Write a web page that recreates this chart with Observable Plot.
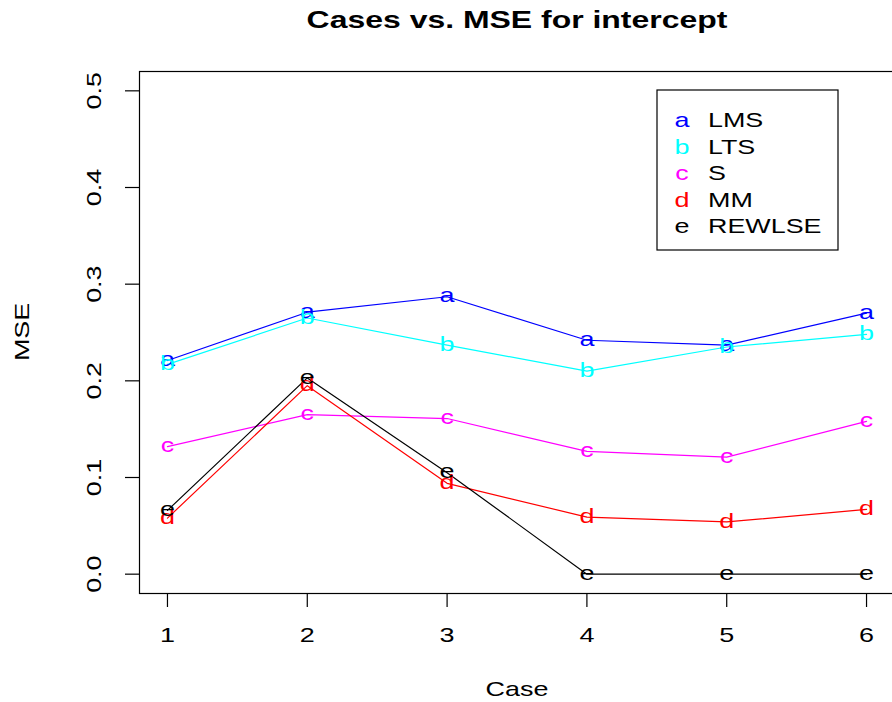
<!DOCTYPE html>
<html><head><meta charset="utf-8">
<script src="https://cdn.jsdelivr.net/npm/d3@7"></script>
<script src="https://cdn.jsdelivr.net/npm/@observablehq/plot@0.6"></script>
<style>
body{margin:0;background:#fff;}
svg{font-family:"Liberation Sans",Arial,Helvetica,sans-serif;}
</style>
</head><body><div id="chart"></div>
<script>
const cases = [1, 2, 3, 4, 5, 6];
const methods = ["LMS", "LTS", "S", "MM", "REWLSE"];
const symbols = ["a", "b", "c", "d", "e"];
const colors = ["#0000ff", "#00ffff", "#ff00ff", "#ff0000", "#000000"];
const mseLMS = [0.221, 0.271, 0.287, 0.242, 0.237, 0.270];
const mseLTS = [0.217, 0.265, 0.237, 0.210, 0.235, 0.248];
const mseS = [0.132, 0.165, 0.161, 0.127, 0.121, 0.158];
const mseMM = [0.058, 0.195, 0.094, 0.059, 0.054, 0.067];
const mseREWLSE = [0.066, 0.203, 0.105, 0.0, 0.0, 0.0];
const yTicks = [0, 0.1, 0.2, 0.3, 0.4, 0.5];
const titleText = "Cases vs. MSE for intercept";
const xLabel = "Case";
const yLabel = "MSE";

const series = [mseLMS, mseLTS, mseS, mseMM, mseREWLSE];
const rows = [];
methods.forEach((m, i) => series[i].forEach((v, j) =>
  rows.push({method: m, sym: symbols[i], case: cases[j], mse: v})));

const stretch = 1.28;

const plot = Plot.plot({
  width: 892, height: 702,
  marginTop: 71, marginBottom: 109, marginLeft: 139, marginRight: -2,
  style: {fontFamily: '"Liberation Sans", Arial, sans-serif', fontSize: "21px", background: "white", color: "black", overflow: "visible"},
  x: {domain: [0.8, 6.2]},
  y: {domain: [-0.02, 0.52]},
  color: {domain: methods, range: colors},
  marks: [
    Plot.frame({stroke: "black", strokeWidth: 1.2}),
    Plot.axisX({ticks: cases, tickFormat: d3.format("d"), tickSize: 14, tickPadding: 20, label: null, fontSize: 21, strokeWidth: 1.2}),
    Plot.axisY({ticks: yTicks, tickSize: 14, tickFormat: () => "", label: null, strokeWidth: 1.2}),
    Plot.text(yTicks, {y: d => d, text: d => d.toFixed(1), frameAnchor: "left", textAnchor: "middle", dx: -45, rotate: -90, fontSize: 21}),
    Plot.line(rows, {x: "case", y: "mse", z: "method", stroke: "method", strokeWidth: 1.2}),
    Plot.text(rows, {x: "case", y: "mse", text: "sym", fill: "method", fontSize: 21, dy: -1}),
    Plot.text([titleText], {text: d => d, frameAnchor: "top", lineAnchor: "bottom", dy: -44, fontSize: 24, fontWeight: "bold"}),
    Plot.text([xLabel], {text: d => d, frameAnchor: "bottom", lineAnchor: "bottom", dy: 102, fontSize: 21})
  ]
});
document.getElementById("chart").appendChild(plot);

const svg = d3.select(plot);

// legend (R-style box, top right)
const lg = svg.append("g").attr("text-anchor", "start");
lg.append("rect").attr("x", 657).attr("y", 90).attr("width", 181).attr("height", 160)
  .attr("fill", "white").attr("stroke", "black").attr("stroke-width", 1.2);
methods.forEach((m, i) => {
  const yb = 127 + i * 26.5;
  lg.append("text").attr("x", 682).attr("y", yb).attr("text-anchor", "middle")
    .attr("font-size", 21).attr("fill", colors[i]).text(symbols[i]);
  lg.append("text").attr("x", 708).attr("y", yb).attr("text-anchor", "start").attr("font-size", 21)
    .attr("fill", "black").text(m);
});

// the reference's glyphs are drawn wider along the text direction
svg.selectAll("text").each(function() {
  const tf = this.getAttribute("transform") || "";
  if (tf.includes("rotate")) {
    this.setAttribute("transform", tf + " scale(" + stretch + ",1)");
    return;
  }
  const L = this.getComputedTextLength();
  if (L > 0) {
    this.setAttribute("textLength", (L * stretch * (this.textContent === titleText ? 1.04 : 1)).toFixed(1));
    this.setAttribute("lengthAdjust", "spacingAndGlyphs");
  }
});

// y-axis title, rotated and widened along its reading direction
svg.append("text")
  .attr("transform", "translate(22,332) rotate(-90) scale(" + stretch + ",1)")
  .attr("text-anchor", "middle").attr("dy", "0.35em")
  .attr("font-size", 21).attr("fill", "black").text(yLabel);
</script>
</body></html>
